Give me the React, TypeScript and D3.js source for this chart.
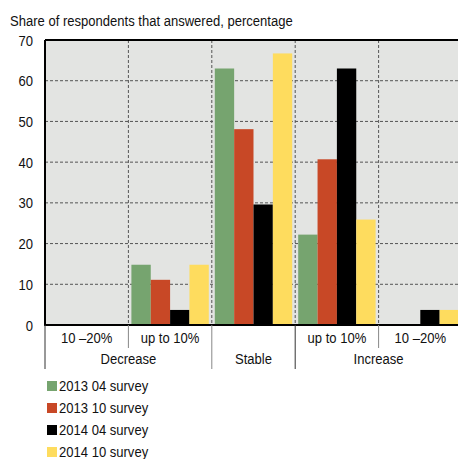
import React from "react";
import * as d3 from "d3";

// Survey answer buckets, left to right
const subCategories = ["dec20", "dec10", "stable", "inc10", "inc20"];
const subLabels = ["10 \u201320%", "up to 10%", "", "up to 10%", "10 \u201320%"];
const groupLabels = [
  { label: "Decrease", from: 0, to: 2 },
  { label: "Stable", from: 2, to: 3 },
  { label: "Increase", from: 3, to: 5 },
];

const seriesNames = ["2013 04 survey", "2013 10 survey", "2014 04 survey", "2014 10 survey"];
const seriesColors = ["#76a46f", "#c84826", "#000000", "#fedc5e"];

const s2013q04 = [0, 14.8, 63.0, 22.2, 0];
const s2013q10 = [0, 11.1, 48.1, 40.7, 0];
const s2014q04 = [0, 3.7, 29.6, 63.0, 3.7];
const s2014q10 = [0, 14.8, 66.7, 25.9, 3.7];
const seriesValues = [s2013q04, s2013q10, s2014q04, s2014q10];

const yTicks = [0, 10, 20, 30, 40, 50, 60, 70];

const FONT = "'Liberation Sans', Arial, sans-serif";
const NARROW = 0.87;

// Narrow-set text label
function T({
  x,
  y,
  anchor = "start",
  children,
}: {
  x: number;
  y: number;
  anchor?: "start" | "middle" | "end";
  children: React.ReactNode;
}) {
  return (
    <text
      transform={`translate(${x},${y}) scale(${NARROW},1)`}
      textAnchor={anchor}
      fontSize={15}
      fill="#111"
    >
      {children}
    </text>
  );
}

export default function App() {
  const W = 458;
  const H = 459;
  const left = 45;
  const right = 462;
  const top = 40;
  const bottom = 325;

  const x = d3.scaleBand<string>().domain(subCategories).range([left, right]).padding(0);
  const xInner = d3
    .scaleBand<number>()
    .domain(d3.range(seriesNames.length))
    .range([0, x.bandwidth()])
    .paddingOuter(0.155)
    .paddingInner(0);
  const y = d3.scaleLinear().domain([0, 70]).range([bottom, top]);

  const bw = x.bandwidth();
  const edge = (i: number) => left + i * bw;

  return (
    <svg
      width={W}
      height={H}
      style={{ position: "absolute", left: 0, top: 0 }}
      fontFamily={FONT}
    >
      <T x={10} y={26}>Share of respondents that answered, percentage</T>

      {/* plot background */}
      <rect x={left} y={top} width={right - left} height={bottom - top} fill="#e3e4e2" />

      {/* horizontal grid */}
      {yTicks
        .filter((t) => t > 0 && t < 70)
        .map((t) => (
          <line
            key={"g" + t}
            x1={left}
            x2={right}
            y1={y(t)}
            y2={y(t)}
            stroke="#555"
            strokeWidth={1}
            strokeDasharray="3,2"
          />
        ))}
      {/* vertical category separators */}
      {d3.range(1, subCategories.length).map((i) => (
        <line
          key={"v" + i}
          x1={edge(i)}
          x2={edge(i)}
          y1={top}
          y2={bottom}
          stroke="#555"
          strokeWidth={1}
          strokeDasharray="3,2"
        />
      ))}

      {/* bars */}
      {subCategories.map((c, ci) =>
        seriesValues.map((vals, si) => (
          <rect
            key={c + si}
            x={(x(c) as number) + (xInner(si) as number)}
            y={y(vals[ci])}
            width={xInner.bandwidth()}
            height={bottom - y(vals[ci])}
            fill={seriesColors[si]}
          />
        ))
      )}

      {/* frame */}
      <line x1={left} x2={right} y1={top} y2={top} stroke="#000" strokeWidth={2} />
      <line x1={left} x2={left} y1={top} y2={bottom} stroke="#000" strokeWidth={2} />
      <line x1={left - 1} x2={right} y1={bottom} y2={bottom} stroke="#000" strokeWidth={2} />

      {/* y tick labels */}
      {yTicks.map((t) => (
        <T key={"y" + t} x={33} y={y(t) + 5.5} anchor="end">
          {t}
        </T>
      ))}

      {/* category axis: sub-labels */}
      {subCategories.map((c, i) => (
        <T key={"s" + c} x={(x(c) as number) + bw / 2} y={343} anchor="middle">
          {subLabels[i]}
        </T>
      ))}
      {/* short dividers between sub-labels */}
      {[1, 4].map((i) => (
        <line key={"sd" + i} x1={edge(i)} x2={edge(i)} y1={bottom} y2={348} stroke="#888" strokeWidth={1} />
      ))}
      {/* group dividers */}
      {[0, 2, 3].map((i) => (
        <line
          key={"gd" + i}
          x1={edge(i)}
          x2={edge(i)}
          y1={bottom}
          y2={369}
          stroke={i === 2 ? "#888" : "#333"}
          strokeWidth={1}
        />
      ))}
      {groupLabels.map((g) => (
        <T key={g.label} x={(edge(g.from) + edge(g.to)) / 2} y={364} anchor="middle">
          {g.label}
        </T>
      ))}

      {/* legend */}
      {seriesNames.map((n, i) => (
        <g key={n}>
          <rect x={47} y={381 + i * 22} width={10} height={10} fill={seriesColors[i]} />
          <T x={59} y={391 + i * 22}>{n}</T>
        </g>
      ))}
    </svg>
  );
}
